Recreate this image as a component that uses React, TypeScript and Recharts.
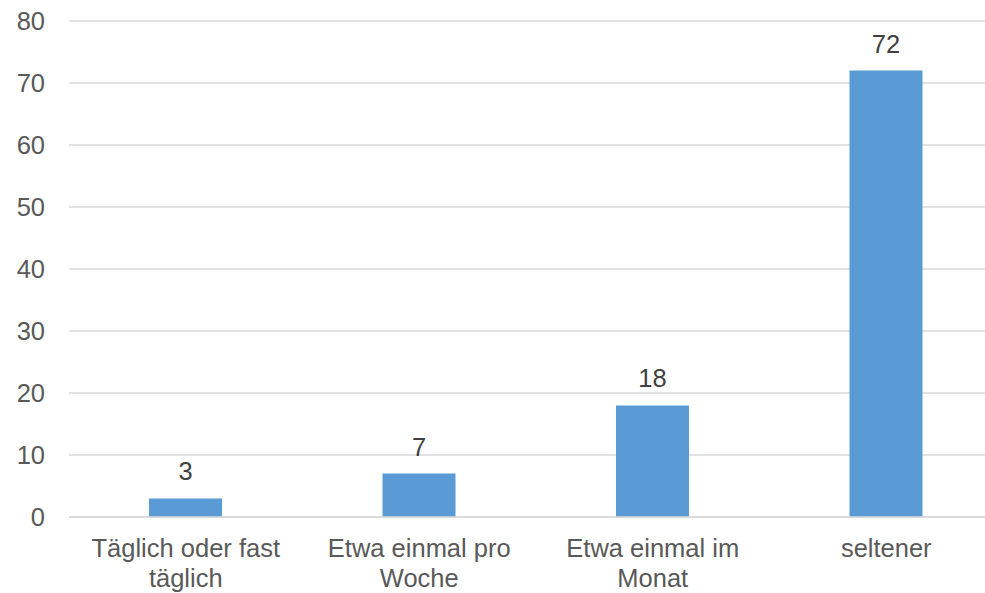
import React from "react";
import { BarChart, Bar, XAxis, YAxis, CartesianGrid, LabelList } from "recharts";

const categories = ["Täglich oder fast\ntäglich", "Etwa einmal pro\nWoche", "Etwa einmal im\nMonat", "seltener"];
const values = [3, 7, 18, 72];
const yTicks = [0, 10, 20, 30, 40, 50, 60, 70, 80];

const data = categories.map((c, i) => ({ name: c, value: values[i] }));

const FONT = "'Liberation Sans', Arial, sans-serif";
const FS = 25.5;
const LH = 29.5;

const XTick = (props: any) => {
  const { x, y, payload } = props;
  const lines = String(payload.value).split("\n");
  return (
    <text
      x={x}
      y={y}
      textAnchor="middle"
      fill="#595959"
      style={{ fontSize: FS, fontFamily: FONT }}
    >
      {lines.map((l, i) => (
        <tspan key={i} x={x} dy={i === 0 ? 18.2 : LH}>
          {l}
        </tspan>
      ))}
    </text>
  );
};

export default function App() {
  return (
    <div style={{ position: "fixed", left: 0, top: 0, width: 985, height: 593, overflow: "hidden", background: "#fff" }}>
      <BarChart
        width={1010}
        height={593}
        data={data}
        margin={{ top: 21, right: 7, bottom: 0, left: 0 }}
        barCategoryGap={0}
      >
        <CartesianGrid vertical={false} stroke="#D9D9D9" strokeWidth={1.3} />
        <XAxis
          dataKey="name"
          height={76}
          tickLine={false}
          tickSize={0}
          tickMargin={22}
          axisLine={{ stroke: "#D9D9D9", strokeWidth: 1.3 }}
          tick={<XTick />}
          interval={0}
        />
        <YAxis
          width={69}
          domain={[0, 80]}
          ticks={yTicks}
          axisLine={false}
          tickLine={false}
          tickSize={0}
          tickMargin={24}
          tick={{ fill: "#595959", fontSize: FS, fontFamily: FONT }}
        />
        <Bar dataKey="value" fill="#5B9BD5" barSize={73} isAnimationActive={false}>
          <LabelList
            dataKey="value"
            position="top"
            offset={18}
            fill="#404040"
            style={{ fontSize: FS, fontFamily: FONT }}
          />
        </Bar>
      </BarChart>
    </div>
  );
}
